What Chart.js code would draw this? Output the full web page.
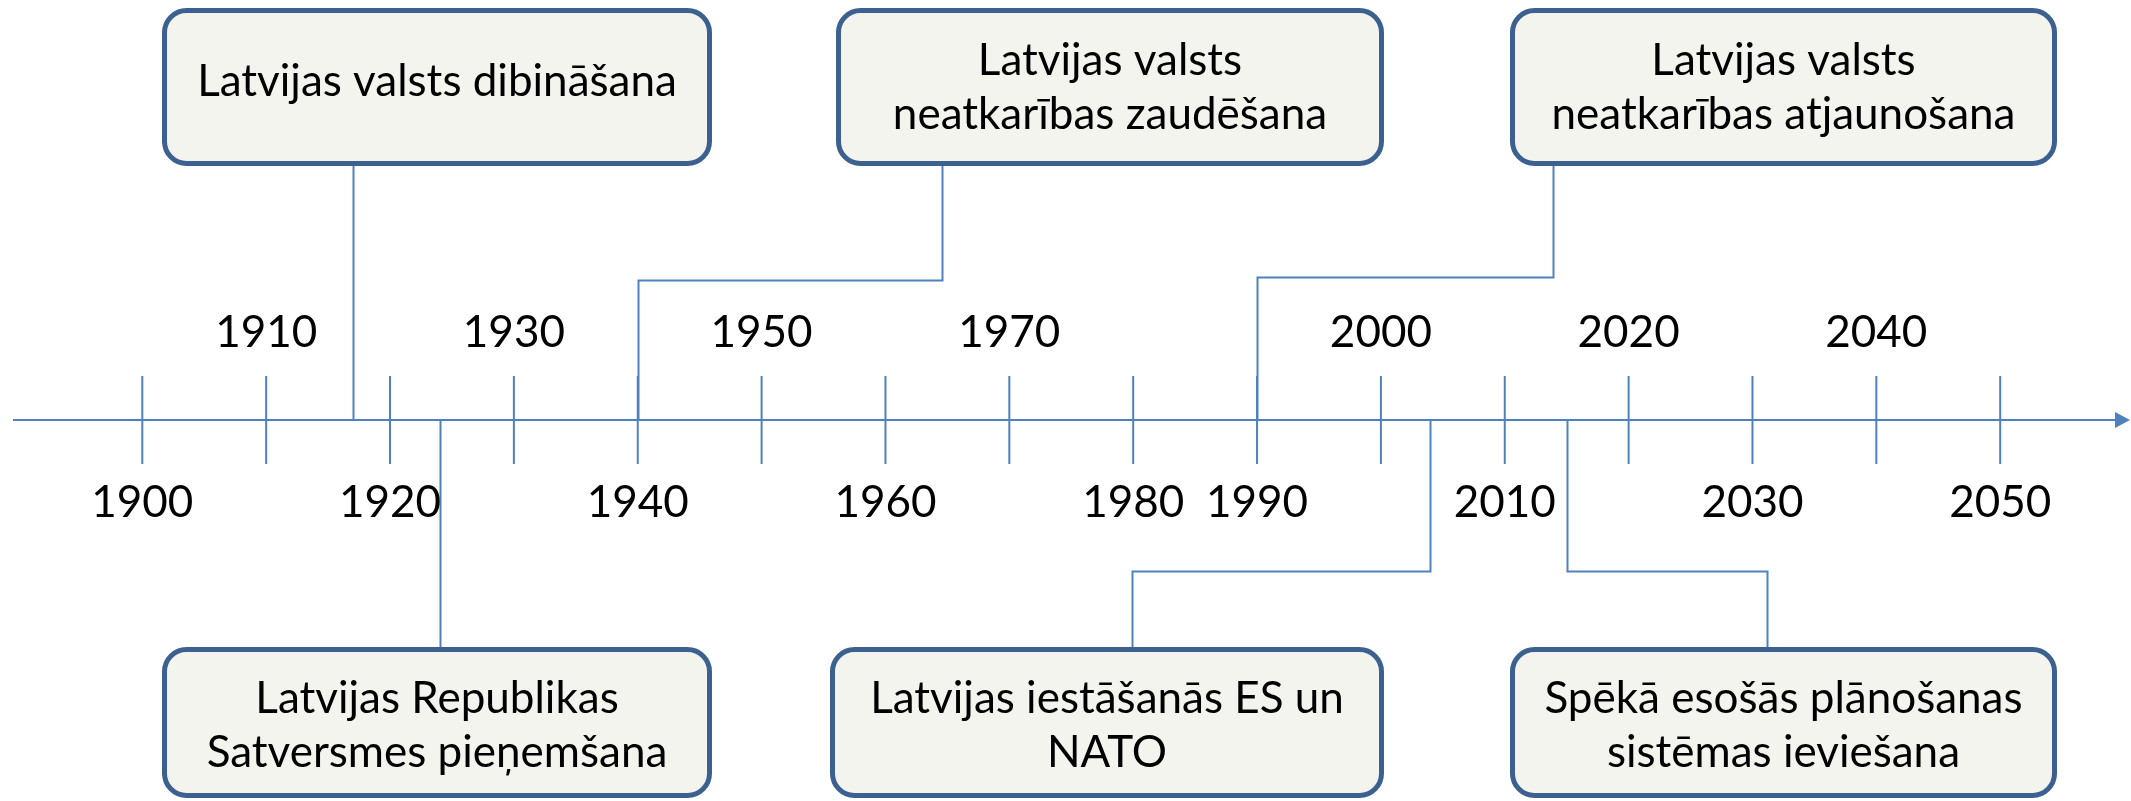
<!DOCTYPE html>
<html>
<head>
<meta charset="utf-8">
<script src="https://cdn.jsdelivr.net/npm/chart.js@4.4.1/dist/chart.umd.min.js"></script>
<style>
  html, body { margin: 0; padding: 0; background: #ffffff; }
  #wrap { width: 2131px; height: 801px; position: relative; }
</style>
</head>
<body>
<div id="wrap"><canvas id="c"></canvas></div>
<script>
// ---- data ----
const tickYears = [1900, 1910, 1920, 1930, 1940, 1950, 1960, 1970, 1980, 1990, 2000, 2010, 2020, 2030, 2040, 2050];
const tickLabels = ['1900', '1910', '1920', '1930', '1940', '1950', '1960', '1970', '1980', '1990', '2000', '2010', '2020', '2030', '2040', '2050'];
const tickLabelSide = ['below', 'above', 'below', 'above', 'below', 'above', 'below', 'above', 'below', 'below', 'above', 'below', 'above', 'below', 'above', 'below'];

const eventYears = [1917, 1924, 1940, 1990, 2004, 2015];
const eventTexts = [
  ['Latvijas valsts dibināšana'],
  ['Latvijas Republikas', 'Satversmes pieņemšana'],
  ['Latvijas valsts', 'neatkarības zaudēšana'],
  ['Latvijas valsts', 'neatkarības atjaunošana'],
  ['Latvijas iestāšanās ES un', 'NATO'],
  ['Spēkā esošās plānošanas', 'sistēmas ieviešana']
];

// axis range (years)
const axisStartYear = 1889.56;
const axisEndYear = 2060.48;

// ---- layout (pixels, decoration only) ----
const boxLayout = [
  { box: [162, 8, 712, 166], anchorX: null, elbowY: null, textDy: -5 },
  { box: [162, 647, 712, 798], anchorX: null, elbowY: null, textDy: 3 },
  { box: [836, 8, 1384, 166], anchorX: 942, elbowY: 280, textDy: 1 },
  { box: [1510, 8, 2057, 166], anchorX: 1553, elbowY: 277, textDy: 1 },
  { box: [830, 647, 1384, 798], anchorX: 1132, elbowY: 571, textDy: 3 },
  { box: [1510, 647, 2057, 798], anchorX: 1767, elbowY: 571, textDy: 3 }
];

const AXIS_COLOR = '#4f81bd';
const BOX_STROKE = '#3c6191';
const BOX_FILL = '#f4f4ee';
const FONT_FAMILY = 'Lato, "Open Sans", sans-serif';

function roundRect(ctx, x0, y0, x1, y1, r) {
  ctx.beginPath();
  ctx.moveTo(x0 + r, y0);
  ctx.lineTo(x1 - r, y0);
  ctx.arcTo(x1, y0, x1, y0 + r, r);
  ctx.lineTo(x1, y1 - r);
  ctx.arcTo(x1, y1, x1 - r, y1, r);
  ctx.lineTo(x0 + r, y1);
  ctx.arcTo(x0, y1, x0, y1 - r, r);
  ctx.lineTo(x0, y0 + r);
  ctx.arcTo(x0, y0, x0 + r, y0, r);
  ctx.closePath();
}

const timelinePlugin = {
  id: 'timeline',
  beforeDatasetsDraw(chart) {
    const ctx = chart.ctx;
    const xs = chart.scales.x, ys = chart.scales.y;
    const ay = ys.getPixelForValue(0);
    const x0 = xs.getPixelForValue(axisStartYear);
    const x1 = xs.getPixelForValue(axisEndYear);
    ctx.save();
    ctx.strokeStyle = AXIS_COLOR;
    ctx.fillStyle = AXIS_COLOR;
    ctx.lineWidth = 2;
    // axis line
    ctx.beginPath();
    ctx.moveTo(x0, ay);
    ctx.lineTo(x1 - 10, ay);
    ctx.stroke();
    // arrow head
    ctx.beginPath();
    ctx.moveTo(x1, ay);
    ctx.lineTo(x1 - 15, ay - 8);
    ctx.lineTo(x1 - 15, ay + 8);
    ctx.closePath();
    ctx.fill();
    // connectors
    eventYears.forEach((yr, i) => {
      const L = boxLayout[i];
      const ex = Math.round(xs.getPixelForValue(yr)) + 0.5;
      const up = L.box[1] < ay;
      const boxEdge = up ? L.box[3] : L.box[1];
      ctx.beginPath();
      ctx.moveTo(ex, ay);
      if (L.anchorX === null) {
        ctx.lineTo(ex, boxEdge);
      } else {
        const ey = L.elbowY + 0.5;
        const axp = L.anchorX + 0.5;
        ctx.lineTo(ex, ey);
        ctx.lineTo(axp, ey);
        ctx.lineTo(axp, boxEdge);
      }
      ctx.stroke();
    });
    ctx.restore();
  },
  afterDatasetsDraw(chart) {
    const ctx = chart.ctx;
    const xs = chart.scales.x, ys = chart.scales.y;
    const ay = ys.getPixelForValue(0);
    ctx.save();
    // tick labels
    ctx.fillStyle = '#000000';
    ctx.font = '44px ' + FONT_FAMILY;
    ctx.textAlign = 'center';
    ctx.textBaseline = 'middle';
    tickYears.forEach((yr, i) => {
      const tx = xs.getPixelForValue(yr);
      const ty = tickLabelSide[i] === 'above' ? ay - 87 : ay + 83;
      ctx.fillText(tickLabels[i], tx, ty);
    });
    // boxes
    boxLayout.forEach((L, i) => {
      const [bx0, by0, bx1, by1] = L.box;
      roundRect(ctx, bx0 + 2.5, by0 + 2.5, bx1 - 2.5, by1 - 2.5, 22);
      ctx.fillStyle = BOX_FILL;
      ctx.fill();
      ctx.lineWidth = 5;
      ctx.strokeStyle = BOX_STROKE;
      ctx.stroke();
      const lines = eventTexts[i];
      const lh = 54;
      const cx = (bx0 + bx1) / 2;
      const cy = (by0 + by1) / 2 + L.textDy;
      ctx.fillStyle = '#000000';
      ctx.font = '44px ' + FONT_FAMILY;
      lines.forEach((t, k) => {
        const ty = cy + (k - (lines.length - 1) / 2) * lh;
        ctx.fillText(t, cx, ty);
      });
    });
    ctx.restore();
  }
};

const tickPoints = tickYears.map(y => ({ x: y, y: 0 }));

new Chart(document.getElementById('c'), {
  type: 'scatter',
  data: {
    datasets: [{
      label: 'ticks',
      data: tickPoints,
      pointStyle: 'line',
      rotation: 90,
      pointRadius: 44,
      pointHoverRadius: 44,
      borderColor: AXIS_COLOR,
      backgroundColor: AXIS_COLOR,
      pointBorderWidth: 2,
      borderWidth: 2,
      clip: false
    }]
  },
  options: {
    responsive: true,
    maintainAspectRatio: false,
    devicePixelRatio: 1,
    animation: false,
    events: [],
    layout: { autoPadding: false, padding: { left: 13, right: 1, top: 39, bottom: 0 } },
    plugins: { legend: { display: false }, tooltip: { enabled: false } },
    scales: {
      x: { type: 'linear', display: false, min: axisStartYear, max: axisEndYear },
      y: { type: 'linear', display: false, min: -1, max: 1 }
    }
  },
  plugins: [timelinePlugin]
});
</script>
</body>
</html>
